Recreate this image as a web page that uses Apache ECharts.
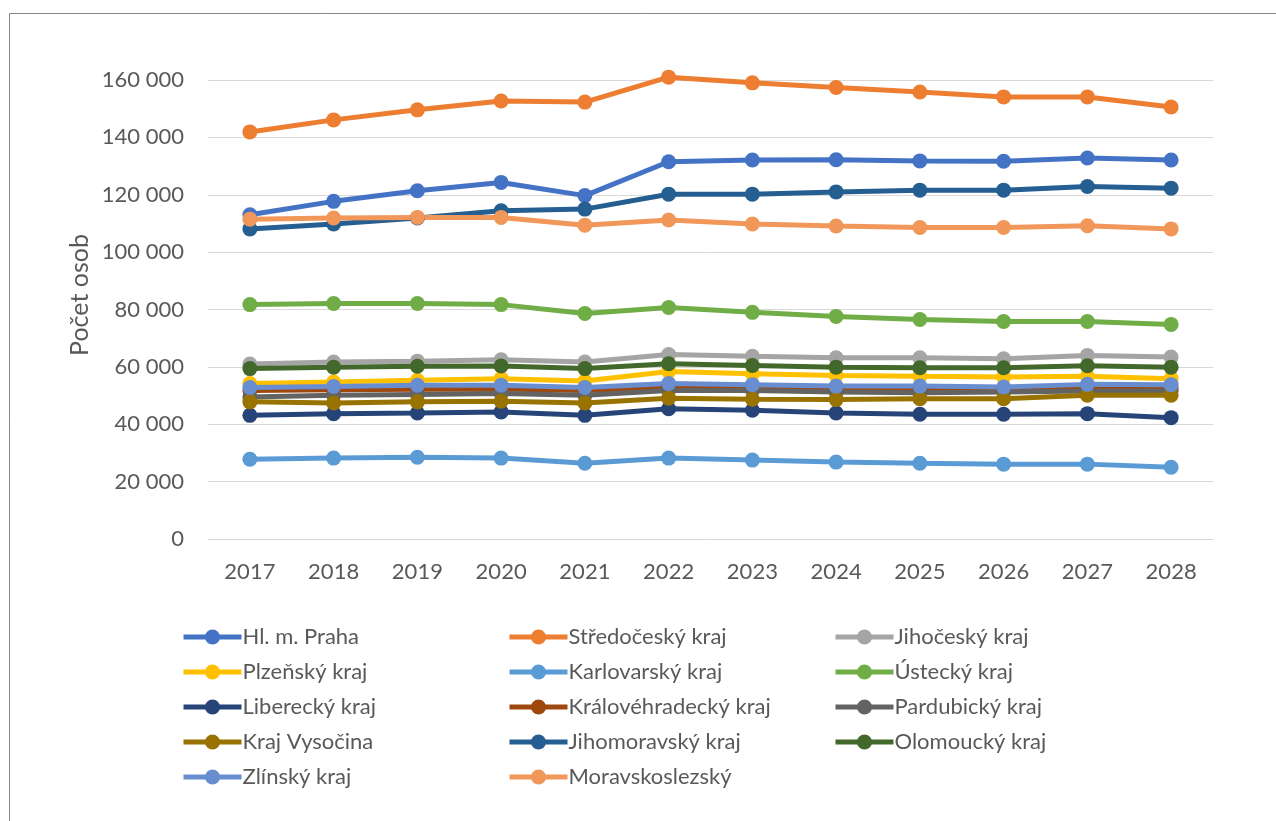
<!DOCTYPE html>
<html><head><meta charset="utf-8">
<script src="https://cdn.jsdelivr.net/npm/echarts@6/dist/echarts.min.js"></script>
<style>html,body{margin:0;padding:0;background:#fff}#c{width:1276px;height:821px}</style>
</head><body><div id="c"></div>
<script>
const years = ['2017','2018','2019','2020','2021','2022','2023','2024','2025','2026','2027','2028'];
const yTicks = [0,20000,40000,60000,80000,100000,120000,140000,160000];
const seriesNames = ['Hl. m. Praha','Středočeský kraj','Jihočeský kraj','Plzeňský kraj','Karlovarský kraj','Ústecký kraj','Liberecký kraj','Královéhradecký kraj','Pardubický kraj','Kraj Vysočina','Jihomoravský kraj','Olomoucký kraj','Zlínský kraj','Moravskoslezský'];
const praha = [113000,117700,121400,124300,119700,131500,132100,132200,131800,131700,132800,132100];
const stredocesky = [141900,146100,149600,152700,152300,161000,159000,157400,155800,154100,154100,150600];
const jihocesky = [61000,61700,62000,62500,61700,64300,63700,63200,63200,62800,64000,63400];
const plzensky = [54200,54700,55300,55900,55100,58400,57600,57000,56700,56500,56700,55900];
const karlovarsky = [27800,28200,28500,28200,26400,28200,27500,26800,26400,26100,26100,25000];
const ustecky = [81700,82100,82100,81700,78600,80700,79000,77600,76500,75800,75800,74800];
const liberecky = [43100,43700,43900,44300,43100,45400,44900,43900,43500,43500,43700,42300];
const kralovehradecky = [51800,52000,52200,52300,51800,53000,52500,52200,52000,52000,52500,52600];
const pardubicky = [49500,50100,50400,50700,50100,51800,51800,51200,51000,51200,51600,51600];
const vysocina = [47800,47400,47800,48000,47400,49100,48700,48600,48900,48900,50100,50100];
const jihomoravsky = [108100,109800,111900,114400,115000,120200,120200,121000,121600,121600,122900,122300];
const olomoucky = [59400,59900,60200,60300,59400,61100,60500,59900,59700,59700,60400,59900];
const zlinsky = [52800,53200,53600,53600,52800,54200,53800,53300,53300,53000,53900,53800];
const moravskoslezsky = [111500,111900,112100,112100,109400,111200,109800,109100,108600,108600,109200,108100];
const seriesData = [praha,stredocesky,jihocesky,plzensky,karlovarsky,ustecky,liberecky,kralovehradecky,pardubicky,vysocina,jihomoravsky,olomoucky,zlinsky,moravskoslezsky];
const colors = ['#4472C4','#ED7D31','#A5A5A5','#FFC000','#5B9BD5','#70AD47','#264478','#9E480E','#636363','#997300','#255E91','#43682B','#698ED0','#F1975A'];

const FONT = 'Lato';
const TXT = '#595959';
const chart = echarts.init(document.getElementById('c'), null, {renderer:'canvas'});
const fmt = v => String(v).replace(/\B(?=(\d{3})+(?!\d))/g, ' ');
const legendBase = {
  orient:'vertical', itemWidth:58, itemHeight:19, itemGap:13, padding:0,
  lineStyle:{width:5},
  textStyle:{fontFamily:FONT, fontSize:22, color:TXT, padding:[0,0,0,-4]},
  selectedMode:false
};
chart.setOption({
  animation:false,
  color: colors,
  graphic:[
    {type:'rect', shape:{x:9.5,y:13.5,width:1300,height:900}, style:{fill:null, stroke:'#868686', lineWidth:1}},
    {type:'text', x:80, y:295, rotation:Math.PI/2, style:{text:'Počet osob', font:'25px '+FONT, fill:TXT, textAlign:'center', textVerticalAlign:'middle'}}
  ],
  grid:{left:208, right:63, top:80, bottom:282},
  xAxis:{type:'category', data:years, boundaryGap:true,
    axisLine:{lineStyle:{color:'#D9D9D9', width:1}}, axisTick:{show:false},
    axisLabel:{fontFamily:FONT, fontSize:22, color:TXT, margin:22}},
  yAxis:{type:'value', min:0, max:160000, interval:20000,
    axisLine:{show:false}, axisTick:{show:false},
    splitLine:{lineStyle:{color:'#D9D9D9', width:1}},
    axisLabel:{fontFamily:FONT, fontSize:22, color:TXT, margin:24, formatter:fmt}},
  legend:[
    Object.assign({}, legendBase, {left:181, top:626, data:[seriesNames[0],seriesNames[3],seriesNames[6],seriesNames[9],seriesNames[12]]}),
    Object.assign({}, legendBase, {left:507, top:626, data:[seriesNames[1],seriesNames[4],seriesNames[7],seriesNames[10],seriesNames[13]]}),
    Object.assign({}, legendBase, {left:833, top:626, data:[seriesNames[2],seriesNames[5],seriesNames[8],seriesNames[11]]})
  ],
  series: seriesNames.map((n,i)=>({
    name:n, type:'line', data:seriesData[i], clip:false,
    symbol:'circle', symbolSize:15, showSymbol:true,
    lineStyle:{width:5, color:colors[i]},
    itemStyle:{color:colors[i]}
  }))
});
</script></body></html>
